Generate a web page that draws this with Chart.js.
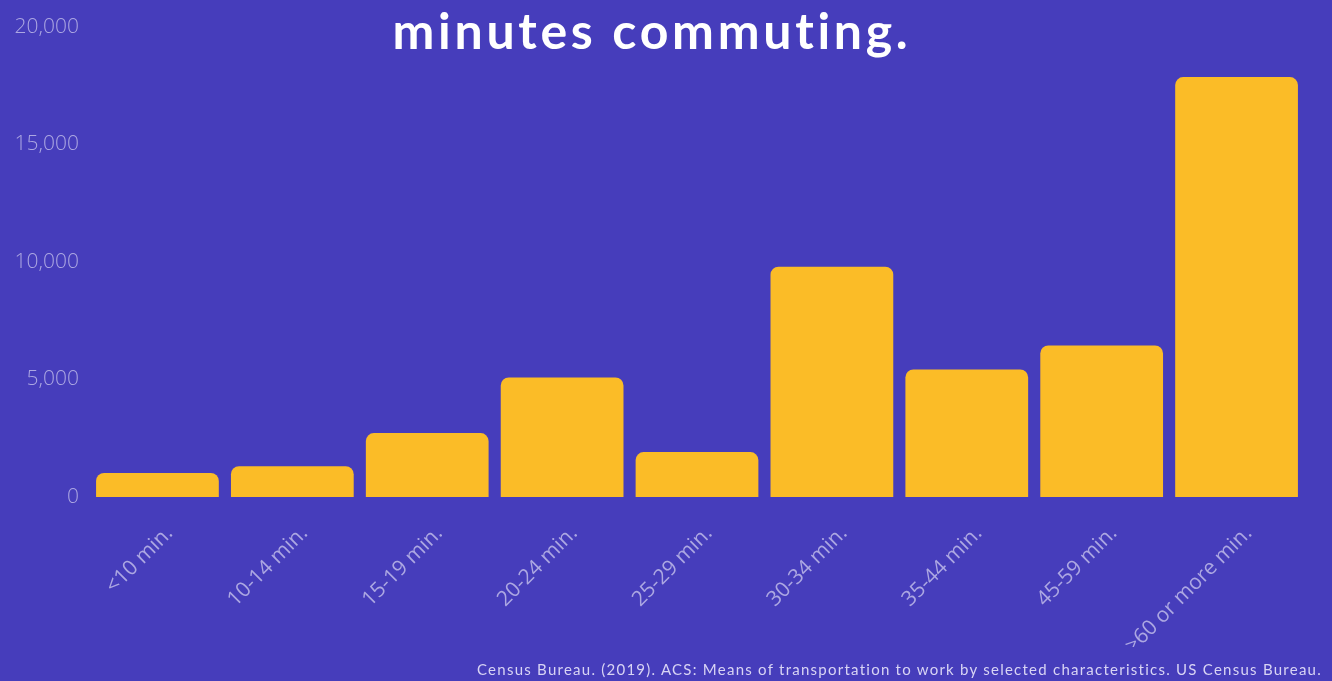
<!DOCTYPE html>
<html>
<head>
<meta charset="utf-8">
<script src="https://cdn.jsdelivr.net/npm/chart.js@4"></script>
<style>
  html, body { margin: 0; padding: 0; background: #463dbb; }
  #wrap { position: relative; width: 1332px; height: 681px; overflow: hidden; }
  #title {
    position: absolute; left: 2px; width: 1300px; top: 0px; text-align: center;
    font-family: Lato, sans-serif; font-weight: 700; font-size: 50px;
    letter-spacing: 3.7px; color: #ffffff;
  }
  #source {
    position: absolute; right: 10px; bottom: 3px;
    font-family: Lato, sans-serif; font-size: 15px; letter-spacing: 1.25px; color: #d8d4f4;
  }
</style>
</head>
<body>
<div id="wrap">
  <canvas id="commuteChart"></canvas>
  <div id="title">minutes commuting.</div>
  <div id="source">Census Bureau. (2019). ACS: Means of transportation to work by selected characteristics. US Census Bureau.</div>
</div>
<script>
const categories = ['<10 min.', '10-14 min.', '15-19 min.', '20-24 min.', '25-29 min.',
                    '30-34 min.', '35-44 min.', '45-59 min.', '>60 or more min.'];
const commuters = [1020, 1310, 2720, 5090, 1910, 9800, 5430, 6450, 17870];
const yTicks = [0, 5000, 10000, 15000, 20000];

const ctx = document.getElementById('commuteChart').getContext('2d');

new Chart(ctx, {
    type: 'bar',
    data: {
        labels: categories,
        datasets: [{
            data: commuters,
            backgroundColor: '#fbbc27',
            borderRadius: 8,
            borderSkipped: 'start',
            categoryPercentage: 1,
            barPercentage: 0.91
        }]
    },
    options: {
        responsive: true,
        maintainAspectRatio: false,
        animation: false,
        layout: { padding: { top: 27, right: 28, bottom: 34, left: 0 } },
        plugins: {
            legend: { display: false },
            tooltip: { enabled: false }
        },
        scales: {
            x: {
                grid: { display: false },
                border: { display: false },
                afterFit: (scale) => { scale.height = 150; },
                ticks: {
                    color: '#aca7e2',
                    font: { family: 'Open Sans', size: 21 },
                    minRotation: 45,
                    maxRotation: 45,
                    labelOffset: 12,
                    padding: 16
                }
            },
            y: {
                min: 0,
                max: 20000,
                grid: { display: false },
                border: { display: false },
                afterFit: (scale) => { scale.width = 90; },
                afterBuildTicks: (scale) => {
                    scale.ticks = yTicks.map(v => ({ value: v }));
                },
                ticks: {
                    color: '#aca7e2',
                    font: { family: 'Open Sans', size: 21, weight: 300 },
                    padding: 3,
                    callback: (v) => v.toLocaleString('en-US')
                }
            }
        }
    }
});
</script>
</body>
</html>
